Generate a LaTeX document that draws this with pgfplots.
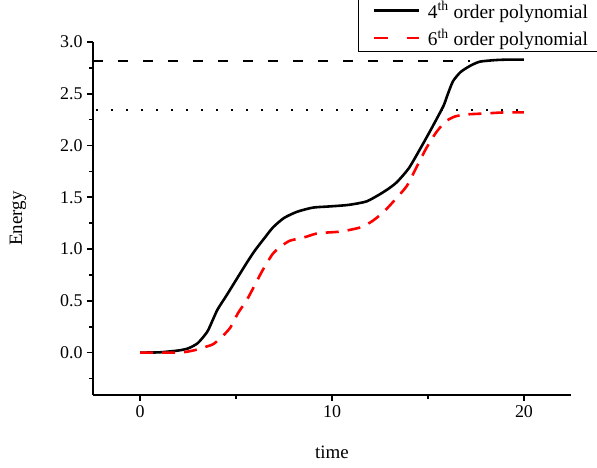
\documentclass[border=0pt]{standalone}
\usepackage{pgfplots}
\pgfplotsset{compat=1.18}
\usepackage{fontspec}
\setmainfont{Liberation Serif}
\begin{document}
\begin{tikzpicture}
\begin{axis}[
  at={(0,0)}, anchor=south west,
  scale only axis, width=478bp, height=353bp,
  xmin=-2.45, xmax=22.45, ymin=-0.41, ymax=3.0,
  axis lines=left, axis line style={-, line width=1.7pt},
  tick style={line width=1.7pt, black},
  tick align=outside,
  major tick length=6bp, minor tick length=4bp,
  xtick={0,10,20}, minor xtick={5,15},
  ytick={0,0.5,1,1.5,2,2.5,3}, minor ytick={-0.25,0.25,0.75,1.25,1.75,2.25,2.75},
  yticklabel style={xshift=-1bp, /pgf/number format/.cd, fixed, fixed zerofill, precision=1},
  /pgf/number format/assume math mode=true,
  ticklabel style={font=\fontsize{18}{20}\selectfont},
  xticklabel style={yshift=-1bp},
  label style={font=\fontsize{19}{21}\selectfont},
  xlabel={time}, ylabel={Energy},
  xlabel style={at={(axis description cs:0.5,0)}, anchor=center, yshift=-57bp},
  ylabel style={at={(axis description cs:0,0.5)}, anchor=center, yshift=75bp},
  clip=false,
  legend style={at={(axis description cs:0.554,0.972)}, anchor=south west,
    draw=black, line width=1.2pt, font=\fontsize{19.5}{21}\selectfont,
    row sep=5bp, column sep=6bp, inner xsep=14bp, inner ysep=2bp},
  legend cell align=left,
  legend image code/.code={\draw[#1, line width=2.6pt] (0bp,0bp) -- (45bp,0bp);},
]
\addplot[black, line width=2.6pt, smooth, tension=0.4] coordinates {
(0,0) (1,0.002) (2,0.02) (2.5,0.04) (3,0.09) (3.5,0.2) (3.8,0.32) (4.05,0.42)
(4.5,0.55) (5,0.70) (5.57,0.87) (6,0.99) (6.5,1.11) (6.93,1.21) (7.5,1.30)
(8.18,1.36) (9,1.40) (9.74,1.41) (10.5,1.42) (11,1.43) (11.8,1.46) (12.5,1.53)
(13,1.59) (13.4,1.65) (14,1.78) (14.6,1.97) (15.2,2.17) (15.8,2.38) (16.0,2.48)
(16.3,2.62) (16.7,2.71) (17.2,2.77) (17.7,2.81) (18.5,2.825) (19.2,2.83) (20,2.83)};
\addlegendentry{4\textsuperscript{th} order polynomial}
\addplot[red, line width=2.6pt, smooth, tension=0.4, dash pattern=on 13bp off 9bp,
  legend image post style={dash pattern=on 14bp off 19bp}] coordinates {
(0,0) (1,0.0) (2,0.0) (2.5,0.01) (3,0.03) (3.5,0.06) (3.8,0.08) (4.2,0.14)
(4.7,0.24) (5.1,0.38) (5.57,0.51) (6,0.66) (6.4,0.80) (6.9,0.95) (7.3,1.02)
(7.8,1.08) (8.5,1.11) (9.2,1.15) (9.8,1.16) (10.5,1.17) (11.5,1.21) (12.1,1.27)
(12.7,1.36) (13.3,1.48) (13.9,1.61) (14.4,1.79) (14.9,1.97) (15.4,2.12) (15.9,2.23)
(16.4,2.28) (17,2.30) (18,2.31) (19,2.32) (20,2.32)};
\addlegendentry{6\textsuperscript{th} order polynomial}
\addplot[black, line width=2pt, dash pattern=on 10bp off 15bp, forget plot] coordinates {(-2.45,2.82) (17.2,2.82)};
\addplot[black, line width=2pt, dash pattern=on 1.8bp off 13.2bp, forget plot] coordinates {(-2.3,2.34) (20.1,2.34)};
\end{axis}
\pgfresetboundingbox
\path (-93bp,-73bp) rectangle (504bp,395bp);
\end{tikzpicture}
\end{document}
